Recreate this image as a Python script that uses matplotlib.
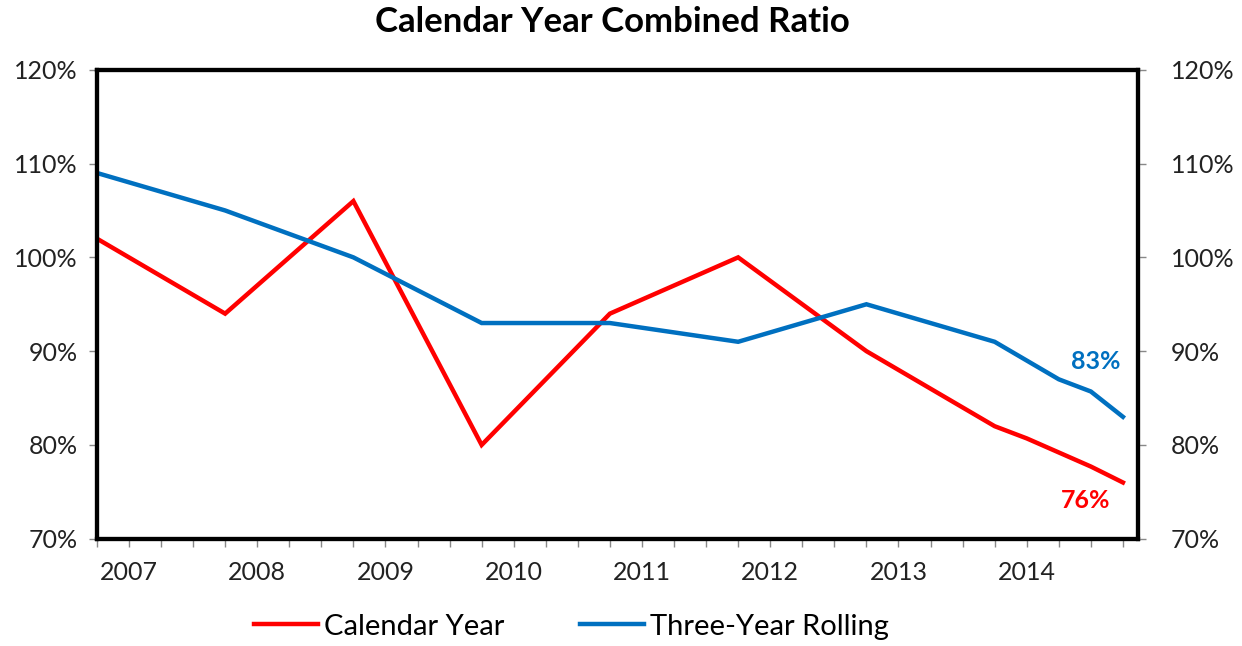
import numpy as np
import matplotlib.pyplot as plt
from matplotlib.lines import Line2D

plt.rcParams['font.family'] = ['Lato', 'DejaVu Sans']

# quarter positions of the data points (fractional years)
x = [2006.75, 2007.75, 2008.75, 2009.75, 2010.75, 2011.75, 2012.75,
     2013.75, 2014.0, 2014.25, 2014.5, 2014.75]
calendar_year = [102, 94, 106, 80, 94, 100, 90, 82, 80.7, 79.2, 77.7, 76]
three_year = [109, 105, 100, 93, 93, 91, 95, 91, 89, 87, 85.7, 83]
year_labels = ["2007", "2008", "2009", "2010", "2011", "2012", "2013", "2014"]
year_pos = [2007, 2008, 2009, 2010, 2011, 2012, 2013, 2014]

RED = "#FF0000"
BLUE = "#0070C0"
TXT = "#222222"

fig = plt.figure(figsize=(12.42, 6.46), dpi=100)
ax = fig.add_axes([0.078, 0.166, 0.838, 0.726])

ax.plot(x, calendar_year, color=RED, linewidth=3.2, solid_joinstyle="miter")
ax.plot(x, three_year, color=BLUE, linewidth=3.2, solid_joinstyle="miter")

ax.text(x[-1] - 0.215, three_year[-1] + 5.9, f"{three_year[-1]:.0f}%",
        color=BLUE, fontsize=18, fontweight="bold", ha="center", va="center")
ax.text(x[-1] - 0.29, calendar_year[-1] - 1.9, f"{calendar_year[-1]:.0f}%",
        color=RED, fontsize=18, fontweight="bold", ha="center", va="center")

ax.set_xlim(2006.75, 2014.865)
ax.set_ylim(70, 120)

# year labels as major ticks (no marks), quarterly marks as minor ticks
ax.set_xticks(year_pos)
ax.set_xticklabels(year_labels)
ax.set_xticks(np.arange(2006.75, 2014.8, 0.25), minor=True)
ax.xaxis.remove_overlapping_locs = False
ax.tick_params(axis="x", which="minor", length=6, width=1, color="#888888",
               direction="out")
ax.tick_params(axis="x", which="major", length=0, pad=16, labelsize=18,
               labelcolor=TXT)

yt = np.arange(70, 121, 10)
ax.set_yticks(yt)
ax.set_yticklabels([f"{v}%" for v in yt])
ax.tick_params(axis="y", length=6, width=1, color="#888888", pad=8,
               labelsize=18, labelcolor=TXT)

ax2 = ax.twinx()
ax2.set_ylim(70, 120)
ax2.set_yticks(yt)
ax2.set_yticklabels([f"{v}%" for v in yt])
ax2.tick_params(axis="y", length=6, width=1, color="#888888", pad=18,
                labelsize=18, labelcolor=TXT)

for a in (ax, ax2):
    for s in a.spines.values():
        s.set_linewidth(3)
        s.set_color("black")

fig.suptitle("Calendar Year Combined Ratio", x=0.493, y=0.99,
             fontsize=25, fontweight="bold")

handles = [Line2D([], [], color=RED, linewidth=3.2),
           Line2D([], [], color=BLUE, linewidth=3.2)]
fig.legend(handles, ["Calendar Year", "Three-Year Rolling"], loc="center",
           bbox_to_anchor=(0.46, 0.03), ncol=2, frameon=False, fontsize=21,
           handlelength=2.2, handletextpad=0.2, columnspacing=2.6)

fig.savefig("out.png", dpi=100, facecolor="white")
